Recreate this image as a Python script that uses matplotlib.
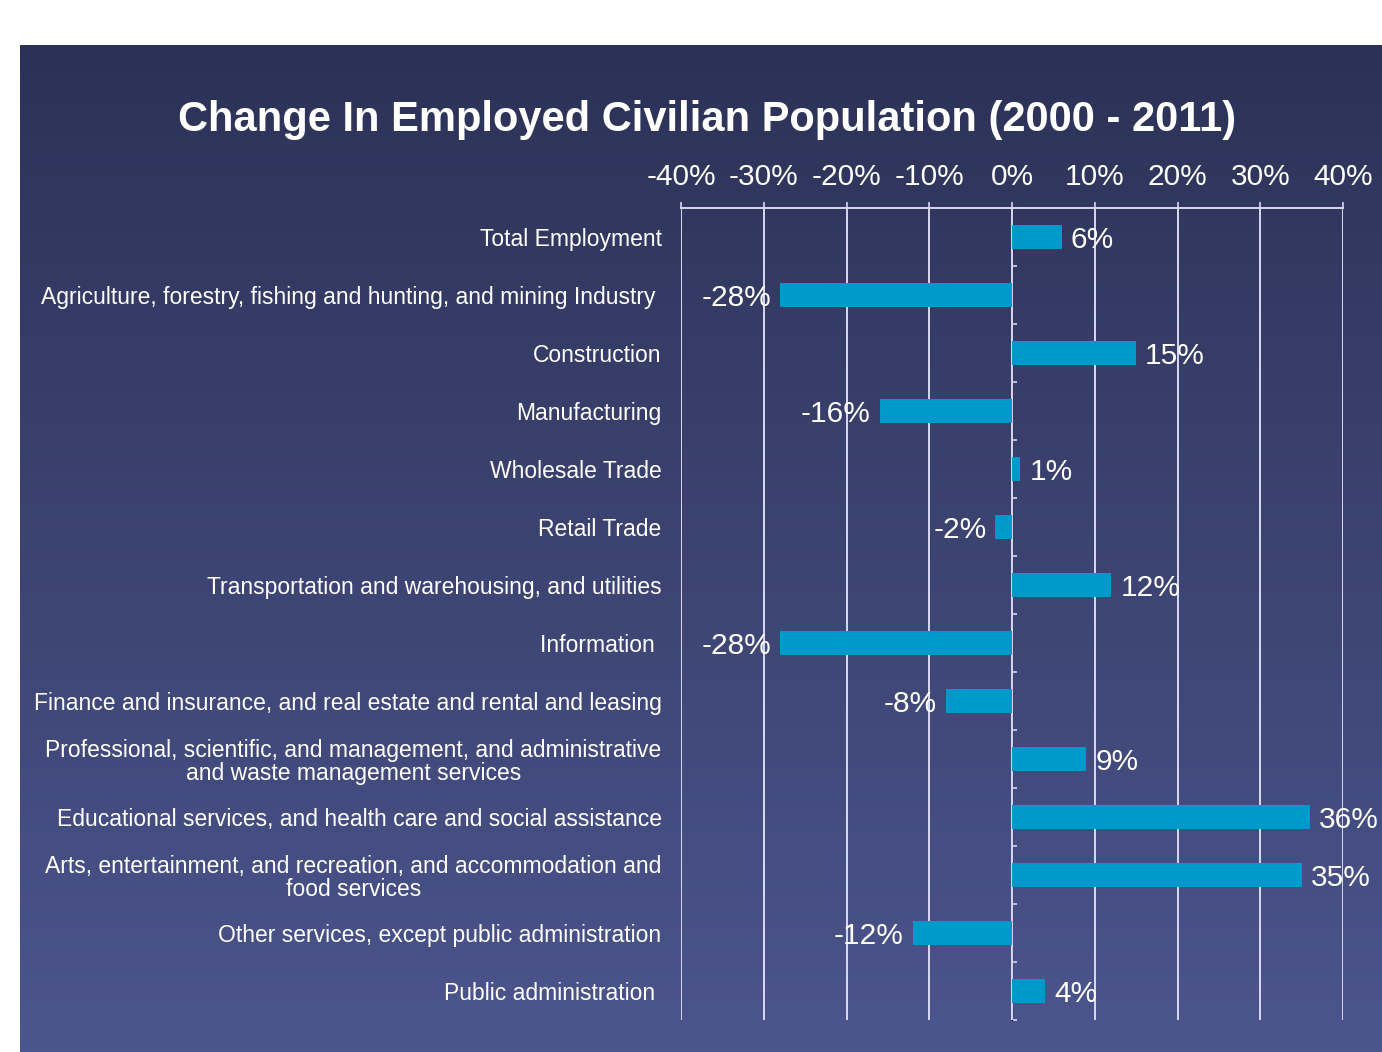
import matplotlib.pyplot as plt
import numpy as np

categories = [
    "Total Employment",
    "Agriculture, forestry, fishing and hunting, and mining Industry ",
    "Construction",
    "Manufacturing",
    "Wholesale Trade",
    "Retail Trade",
    "Transportation and warehousing, and utilities",
    "Information ",
    "Finance and insurance, and real estate and rental and leasing",
    "Professional, scientific, and management, and administrative\nand waste management services",
    "Educational services, and health care and social assistance",
    "Arts, entertainment, and recreation, and accommodation and\nfood services",
    "Other services, except public administration",
    "Public administration ",
]
changes = [6, -28, 15, -16, 1, -2, 12, -28, -8, 9, 36, 35, -12, 4]
x_ticks = [-40, -30, -20, -10, 0, 10, 20, 30, 40]

plt.rcParams['font.family'] = ['Liberation Sans', 'DejaVu Sans']

W, H = 1382, 1052
fig = plt.figure(figsize=(W / 100, H / 100), dpi=100, facecolor='white')

# gradient panel behind the chart
bg = fig.add_axes([20 / W, 0, 1 - 20 / W, 1 - 45 / H], zorder=0)
top = np.array([44, 50, 86]) / 255
bottom = np.array([76, 85, 141]) / 255
t = np.linspace(0, 1, 256)[:, None]
grad = top * (1 - t)[..., None] + bottom * t[..., None]
grad = np.repeat(grad, 2, axis=1)
bg.imshow(grad, aspect='auto', extent=[0, 1, 0, 1])
bg.axis('off')

line_col = '#d9d9f2'
ax = fig.add_axes([681 / W, 32 / H, (1343 - 681) / W, (1020 - 208) / H], zorder=1)
ax.set_facecolor('none')

y = np.arange(len(categories))
ax.barh(y, changes, height=0.42, color='#0099cc', zorder=3)

for yi, v in zip(y, changes):
    off = 6.5 if v >= 0 else -6.5
    ax.annotate(f"{v}%", (v, yi), xytext=(off, 0), textcoords='offset points',
                ha='left' if v >= 0 else 'right', va='center_baseline',
                color='white', fontsize=21.5, zorder=4)

ax.set_xlim(-40, 40)
ax.set_ylim(len(categories) - 0.5, -0.5)
ax.set_xticks(x_ticks)
ax.set_xticklabels([f"{v}%" for v in x_ticks])
ax.xaxis.tick_top()
ax.tick_params(axis='x', colors=line_col, labelcolor='white', labelsize=21.5,
               length=4, width=1.2, pad=8)
ax.set_yticks(y)
ax.set_yticklabels(categories, multialignment='center', linespacing=1.0)
ax.tick_params(axis='y', length=0, labelcolor='white', labelsize=16.5, pad=14)
ax.grid(axis='x', color=line_col, linewidth=1.4, zorder=1)
for s in ['left', 'right', 'bottom']:
    ax.spines[s].set_visible(False)
ax.spines['top'].set_color(line_col)
ax.spines['top'].set_linewidth(1.4)

# zero axis with category separators
zero_ax = ax.secondary_yaxis(0.5)
zero_ax.set_yticks(np.arange(len(categories) + 1) - 0.5)
zero_ax.set_yticklabels([])
zero_ax.tick_params(axis='y', colors=line_col, length=3.5, width=1.2, direction='out')
zero_ax.spines['left'].set_color(line_col)
zero_ax.spines['left'].set_linewidth(1.4)

fig.text(707 / W, 1 - 120 / H, "Change In Employed Civilian Population (2000 - 2011)",
         ha='center', va='center', color='white', fontsize=30, fontweight='bold')

fig.savefig('out.png', dpi=100, facecolor='white')
